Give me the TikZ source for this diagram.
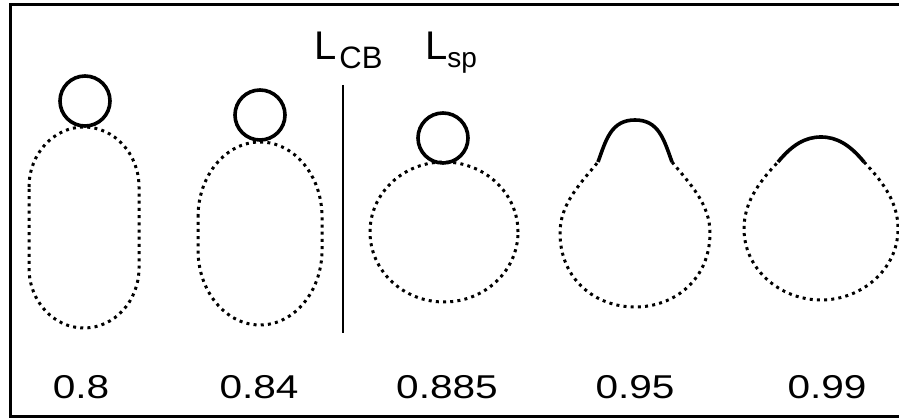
\documentclass[tikz,border=0pt]{standalone}
\usepackage{fontspec}
\setmainfont{Liberation Sans}
\usepackage{graphicx}

\tikzset{
  dots/.style={line width=3pt, dash pattern=on 3pt off 4.2pt},
  rim/.style={line width=3.6pt},
  val/.style={anchor=base, inner sep=0pt, font=\fontsize{33}{33}\selectfont},
}
% the printed numbers are set wide
\newcommand{\wide}[1]{\scalebox{1.23}[1]{#1}}

\begin{document}
\begin{tikzpicture}[x=1pt,y=1pt]
  \useasboundingbox (0,0) rectangle (899,419);

  % frame, open on the right
  \draw[line width=3pt] (905,414) -- (10,414) -- (10,2.5) -- (905,2.5);

  % small drops sitting on top
  \begin{scope}[every node/.style={circle, draw, rim, inner sep=0pt, minimum size=50pt}]
    \node (c1) at (85,318)  {};
    \node (c2) at (260,304) {};
    \node (c3) at (443,281) {};
  \end{scope}

  % big bodies
  \draw[dots] (29,232) arc[start angle=180, end angle=0, x radius=55pt, y radius=60pt]
    -- (139,151) arc[start angle=0, end angle=-180, x radius=55pt, y radius=60pt] -- cycle;
  \draw[dots] (198,202) arc[start angle=180, end angle=0, x radius=62pt, y radius=75pt]
    -- (322,169) arc[start angle=0, end angle=-180, x radius=62pt, y radius=75pt] -- cycle;
  \draw[dots] (444,187) ellipse[x radius=74pt, y radius=70pt];

  % necked shape
  \draw[rim] (598,257) .. controls (606,279) and (611,299) .. (635,299)
    .. controls (659,299) and (664,279) .. (672,257);
  \draw[dots] (672,257) .. controls (690,235) and (710,215) .. (710,186)
    .. controls (710,140) and (675,112) .. (635,112)
    .. controls (595,112) and (560,140) .. (560,186)
    .. controls (560,215) and (580,235) .. (598,257);

  % nearly round shape
  \draw[rim] (778,257) .. controls (792,274) and (805,282) .. (821,282)
    .. controls (837,282) and (850,274) .. (864,257);
  \draw[dots] (864,257) .. controls (885,235) and (898,215) .. (898,190)
    .. controls (898,150) and (862,119) .. (821,119)
    .. controls (780,119) and (744,150) .. (744,190)
    .. controls (744,215) and (757,235) .. (778,257);

  % limits
  \coordinate (cbtop) at (343,334);
  \coordinate (cbbot) at (343,86);
  \draw[line width=1.8pt] (cbtop) -- (cbbot);
  \node[anchor=base west, inner sep=0pt] (lcb) at (314,359)
    {\fontsize{40}{40}\selectfont L\hspace{3pt}\raisebox{-9pt}{\fontsize{31}{31}\selectfont CB}};
  \node[anchor=base west, inner sep=0pt] (lsp) at (425,359)
    {\fontsize{40}{40}\selectfont L\raisebox{-8pt}{\fontsize{28}{28}\selectfont sp}};

  % parameter values
  \node[val] (v1) at (81,20)  {\wide{0.8}};
  \node[val] (v2) at (259,20) {\wide{0.84}};
  \node[val] (v3) at (447,20) {\wide{0.885}};
  \node[val] (v4) at (635,20) {\wide{0.95}};
  \node[val] (v5) at (827,20) {\wide{0.99}};
\end{tikzpicture}
\end{document}
